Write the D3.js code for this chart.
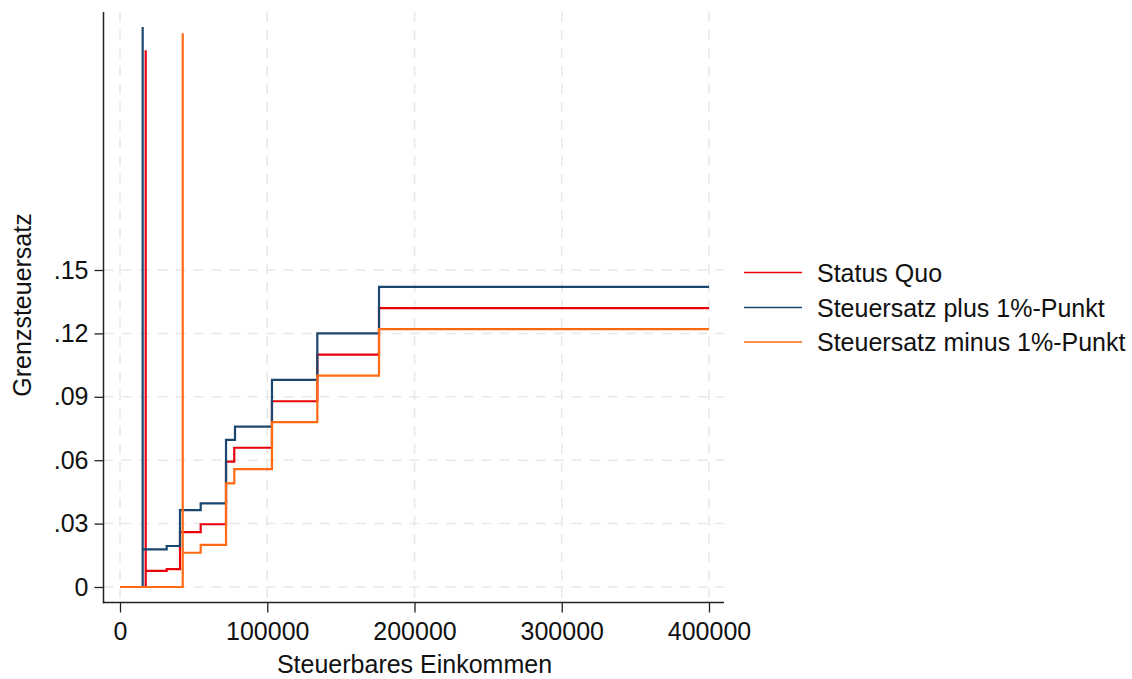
<!DOCTYPE html>
<html>
<head>
<meta charset="utf-8">
<script src="https://cdn.jsdelivr.net/npm/d3@7"></script>
<style>
  html, body { margin: 0; padding: 0; background: #fff; }
  svg { display: block; font-family: "Liberation Sans", Arial, sans-serif; }
</style>
</head>
<body>
<svg id="chart" width="1132" height="679"></svg>
<script>
// ---- data ----
const seriesNames = ["Status Quo", "Steuersatz plus 1%-Punkt", "Steuersatz minus 1%-Punkt"];
const seriesColors = ["#e8000b", "#1a476f", "#ff6a13"];

// Status Quo
const sqIncome = [0, 17450, 17450, 31700, 40750, 54800, 72000, 77600, 103200, 134000, 175900, 400000];
const sqRate   = [0, 0.254, 0.0076, 0.0085, 0.026, 0.0297, 0.0593, 0.0659, 0.0879, 0.110, 0.132, 0.132];

// Steuersatz plus 1%-Punkt
const plusIncome = [0, 15400, 15400, 31700, 40750, 54800, 72000, 78100, 103200, 134000, 175900, 400000];
const plusRate   = [0, 0.265, 0.0178, 0.0194, 0.0364, 0.0396, 0.0696, 0.0759, 0.098, 0.120, 0.142, 0.142];

// Steuersatz minus 1%-Punkt
const minusIncome = [0, 42600, 42600, 54800, 72000, 77600, 103200, 134000, 175900, 400000];
const minusRate   = [0, 0.262, 0.0162, 0.0199, 0.049, 0.0558, 0.078, 0.100, 0.122, 0.122];

const xTicks = [0, 100000, 200000, 300000, 400000];
const yTicks = [0, 0.03, 0.06, 0.09, 0.12, 0.15];

const xTitle = "Steuerbares Einkommen";
const yTitle = "Grenzsteuersatz";

// ---- layout ----
const FS = 25;
const svg = d3.select("#chart");
const x = d3.scaleLinear().domain([0, 400000]).range([120, 709]);
const y = d3.scaleLinear().domain([0, 0.15]).range([587, 270]);
const axisLeftX = 103.5, axisBottomY = 602.5, plotTop = 12, plotRight = 724;

// grid
const grid = svg.append("g");
grid.selectAll("line.h").data(yTicks).join("line")
  .attr("x1", axisLeftX).attr("x2", plotRight)
  .attr("y1", d => y(d)).attr("y2", d => y(d))
  .attr("stroke", "#e8e8e8").attr("stroke-width", 1.5)
  .attr("stroke-dasharray", "10,8");
grid.selectAll("line.v").data(xTicks).join("line")
  .attr("x1", d => x(d)).attr("x2", d => x(d))
  .attr("y1", plotTop).attr("y2", axisBottomY)
  .attr("stroke", "#e8e8e8").attr("stroke-width", 1.5)
  .attr("stroke-dasharray", "10,8");

// lines
const series = [
  { inc: sqIncome, rate: sqRate },
  { inc: plusIncome, rate: plusRate },
  { inc: minusIncome, rate: minusRate }
];
const line = d3.line().x(d => x(d[0])).y(d => y(d[1])).curve(d3.curveStepAfter);
series.forEach((s, i) => {
  const pts = s.inc.map((v, j) => [v, s.rate[j]]);
  svg.append("path").datum(pts)
    .attr("d", line)
    .attr("fill", "none")
    .attr("stroke", seriesColors[i])
    .attr("stroke-width", 2.2)
    .attr("stroke-linejoin", "miter");
});

// axes
const fmtY = d => d === 0 ? "0" : d3.format(".2f")(d).replace(/^0/, "");
const yAxis = d3.axisLeft(y).tickValues(yTicks).tickFormat(fmtY).tickSize(9).tickPadding(6).tickSizeOuter(0);
const gy = svg.append("g").attr("transform", `translate(${axisLeftX},0)`).call(yAxis);
gy.select(".domain").remove();
gy.selectAll(".tick line").attr("stroke", "#222").attr("stroke-width", 1.3);
gy.selectAll(".tick text").attr("font-size", FS).attr("fill", "#111")
  .attr("font-family", "Liberation Sans, Arial, sans-serif");

const xAxis = d3.axisBottom(x).tickValues(xTicks).tickFormat(d3.format("d")).tickSize(10).tickPadding(10).tickSizeOuter(0);
const gx = svg.append("g").attr("transform", `translate(0,${axisBottomY})`).call(xAxis);
gx.select(".domain").remove();
gx.selectAll(".tick line").attr("stroke", "#222").attr("stroke-width", 1.3);
gx.selectAll(".tick text").attr("font-size", FS).attr("fill", "#111")
  .attr("font-family", "Liberation Sans, Arial, sans-serif");

svg.append("line").attr("x1", axisLeftX).attr("x2", axisLeftX)
  .attr("y1", plotTop).attr("y2", axisBottomY + 0.7)
  .attr("stroke", "#222").attr("stroke-width", 1.5);
svg.append("line").attr("x1", axisLeftX - 0.7).attr("x2", plotRight)
  .attr("y1", axisBottomY).attr("y2", axisBottomY)
  .attr("stroke", "#222").attr("stroke-width", 1.5);

// titles
svg.append("text").attr("x", (x(0) + x(400000)) / 2).attr("y", 673)
  .attr("text-anchor", "middle").attr("font-size", FS).attr("fill", "#111").text(xTitle);
svg.append("text").attr("transform", "translate(31,305) rotate(-90)")
  .attr("text-anchor", "middle").attr("font-size", FS).attr("fill", "#111").text(yTitle);

// legend
const legY = [272.5, 307.5, 342];
const leg = svg.append("g");
seriesNames.forEach((n, i) => {
  leg.append("line").attr("x1", 744).attr("x2", 802)
    .attr("y1", legY[i]).attr("y2", legY[i])
    .attr("stroke", seriesColors[i]).attr("stroke-width", 1.6);
  leg.append("text").attr("x", 817).attr("y", legY[i] + 9)
    .attr("font-size", FS).attr("fill", "#111").text(n);
});
</script>
</body>
</html>
